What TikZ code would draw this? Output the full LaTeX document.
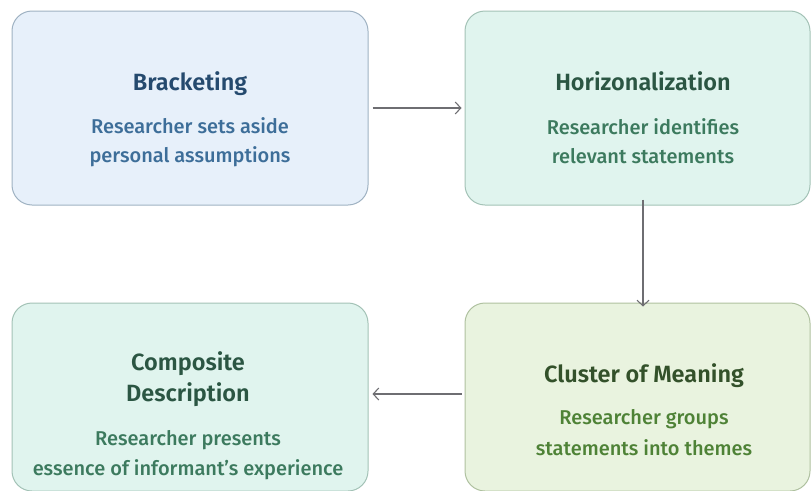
\documentclass[tikz,border=0pt]{standalone}
\usepackage{fontspec}
\setmainfont{Fira Sans}[UprightFont={Fira Sans Medium}, BoldFont={Fira Sans SemiBold}]
\usetikzlibrary{arrows.meta,calc}
\definecolor{bfill}{HTML}{E7F0FA}
\definecolor{bdraw}{HTML}{9FB2C2}
\definecolor{btitle}{HTML}{254A6E}
\definecolor{btext}{HTML}{3D6E99}
\definecolor{mfill}{HTML}{E0F4EE}
\definecolor{mdraw}{HTML}{A3C2B6}
\definecolor{mtitle}{HTML}{2B5643}
\definecolor{mtext}{HTML}{3C7A5E}
\definecolor{gfill}{HTML}{E9F3DF}
\definecolor{gdraw}{HTML}{AFC1A0}
\definecolor{gtitle}{HTML}{33512A}
\definecolor{gtext}{HTML}{4E8236}
\definecolor{arr}{HTML}{6E6E72}
\tikzset{
  card/.style={rounded corners=20pt, line width=1pt, inner sep=0pt},
  ttl/.style={anchor=base, inner sep=0pt, font=\fontsize{23.5}{27}\selectfont\bfseries},
  txt/.style={anchor=base, inner sep=0pt, font=\fontsize{20}{24}\selectfont},
  flow/.style={draw=arr, line width=1.1pt, -{Straight Barb[length=5.5pt,width=12pt]}},
}
\begin{document}
\begin{tikzpicture}[x=1pt,y=-1pt]
\useasboundingbox (0,0) rectangle (811,490);
\clip (0,0) rectangle (811,490);
% boxes
\node[card, fill=bfill, draw=bdraw, minimum width=356pt, minimum height=194pt] (b1) at (190,108) {};
\node[card, fill=mfill, draw=mdraw, minimum width=345pt, minimum height=194pt] (b2) at (637.5,108) {};
\node[card, fill=mfill, draw=mdraw, minimum width=356pt, minimum height=188pt] (b3) at (190,397) {};
\node[card, fill=gfill, draw=gdraw, minimum width=345pt, minimum height=188pt] (b4) at (637.5,397) {};
% texts
\node[ttl, text=btitle] (t1) at (190,90) {Bracketing};
\node[txt, text=btext] (s1a) at (190,133) {Researcher sets aside};
\node[txt, text=btext] (s1b) at (190,162) {personal assumptions};
\node[ttl, text=mtitle] (t2) at (643,90) {Horizonalization};
\node[txt, text=mtext] (s2a) at (643,134) {Researcher identifies};
\node[txt, text=mtext] (s2b) at (643,163) {relevant statements};
\node[ttl, text=mtitle] (t3a) at (188,370) {Composite};
\node[ttl, text=mtitle] (t3b) at (188,401) {Description};
\node[txt, text=mtext] (s3a) at (188,445) {Researcher presents};
\node[txt, text=mtext] (s3b) at (188,475) {essence of informant's experience};
\node[ttl, text=gtitle] (t4) at (644,382) {Cluster of Meaning};
\node[txt, text=gtext] (s4a) at (644,424) {Researcher groups};
\node[txt, text=gtext] (s4b) at (644,455) {statements into themes};
% connectors
\draw[flow] ([xshift=4pt]b1.east) -- ([xshift=-3pt]b2.west);
\draw[flow] ([xshift=5.5pt,yshift=6pt]b2.south) -- ([xshift=5.5pt,yshift=-4pt]b4.north);
\draw[flow] ([xshift=-3pt,yshift=3pt]b4.west) -- ([xshift=4pt,yshift=3pt]b3.west -| b3.east);
\end{tikzpicture}
\end{document}
